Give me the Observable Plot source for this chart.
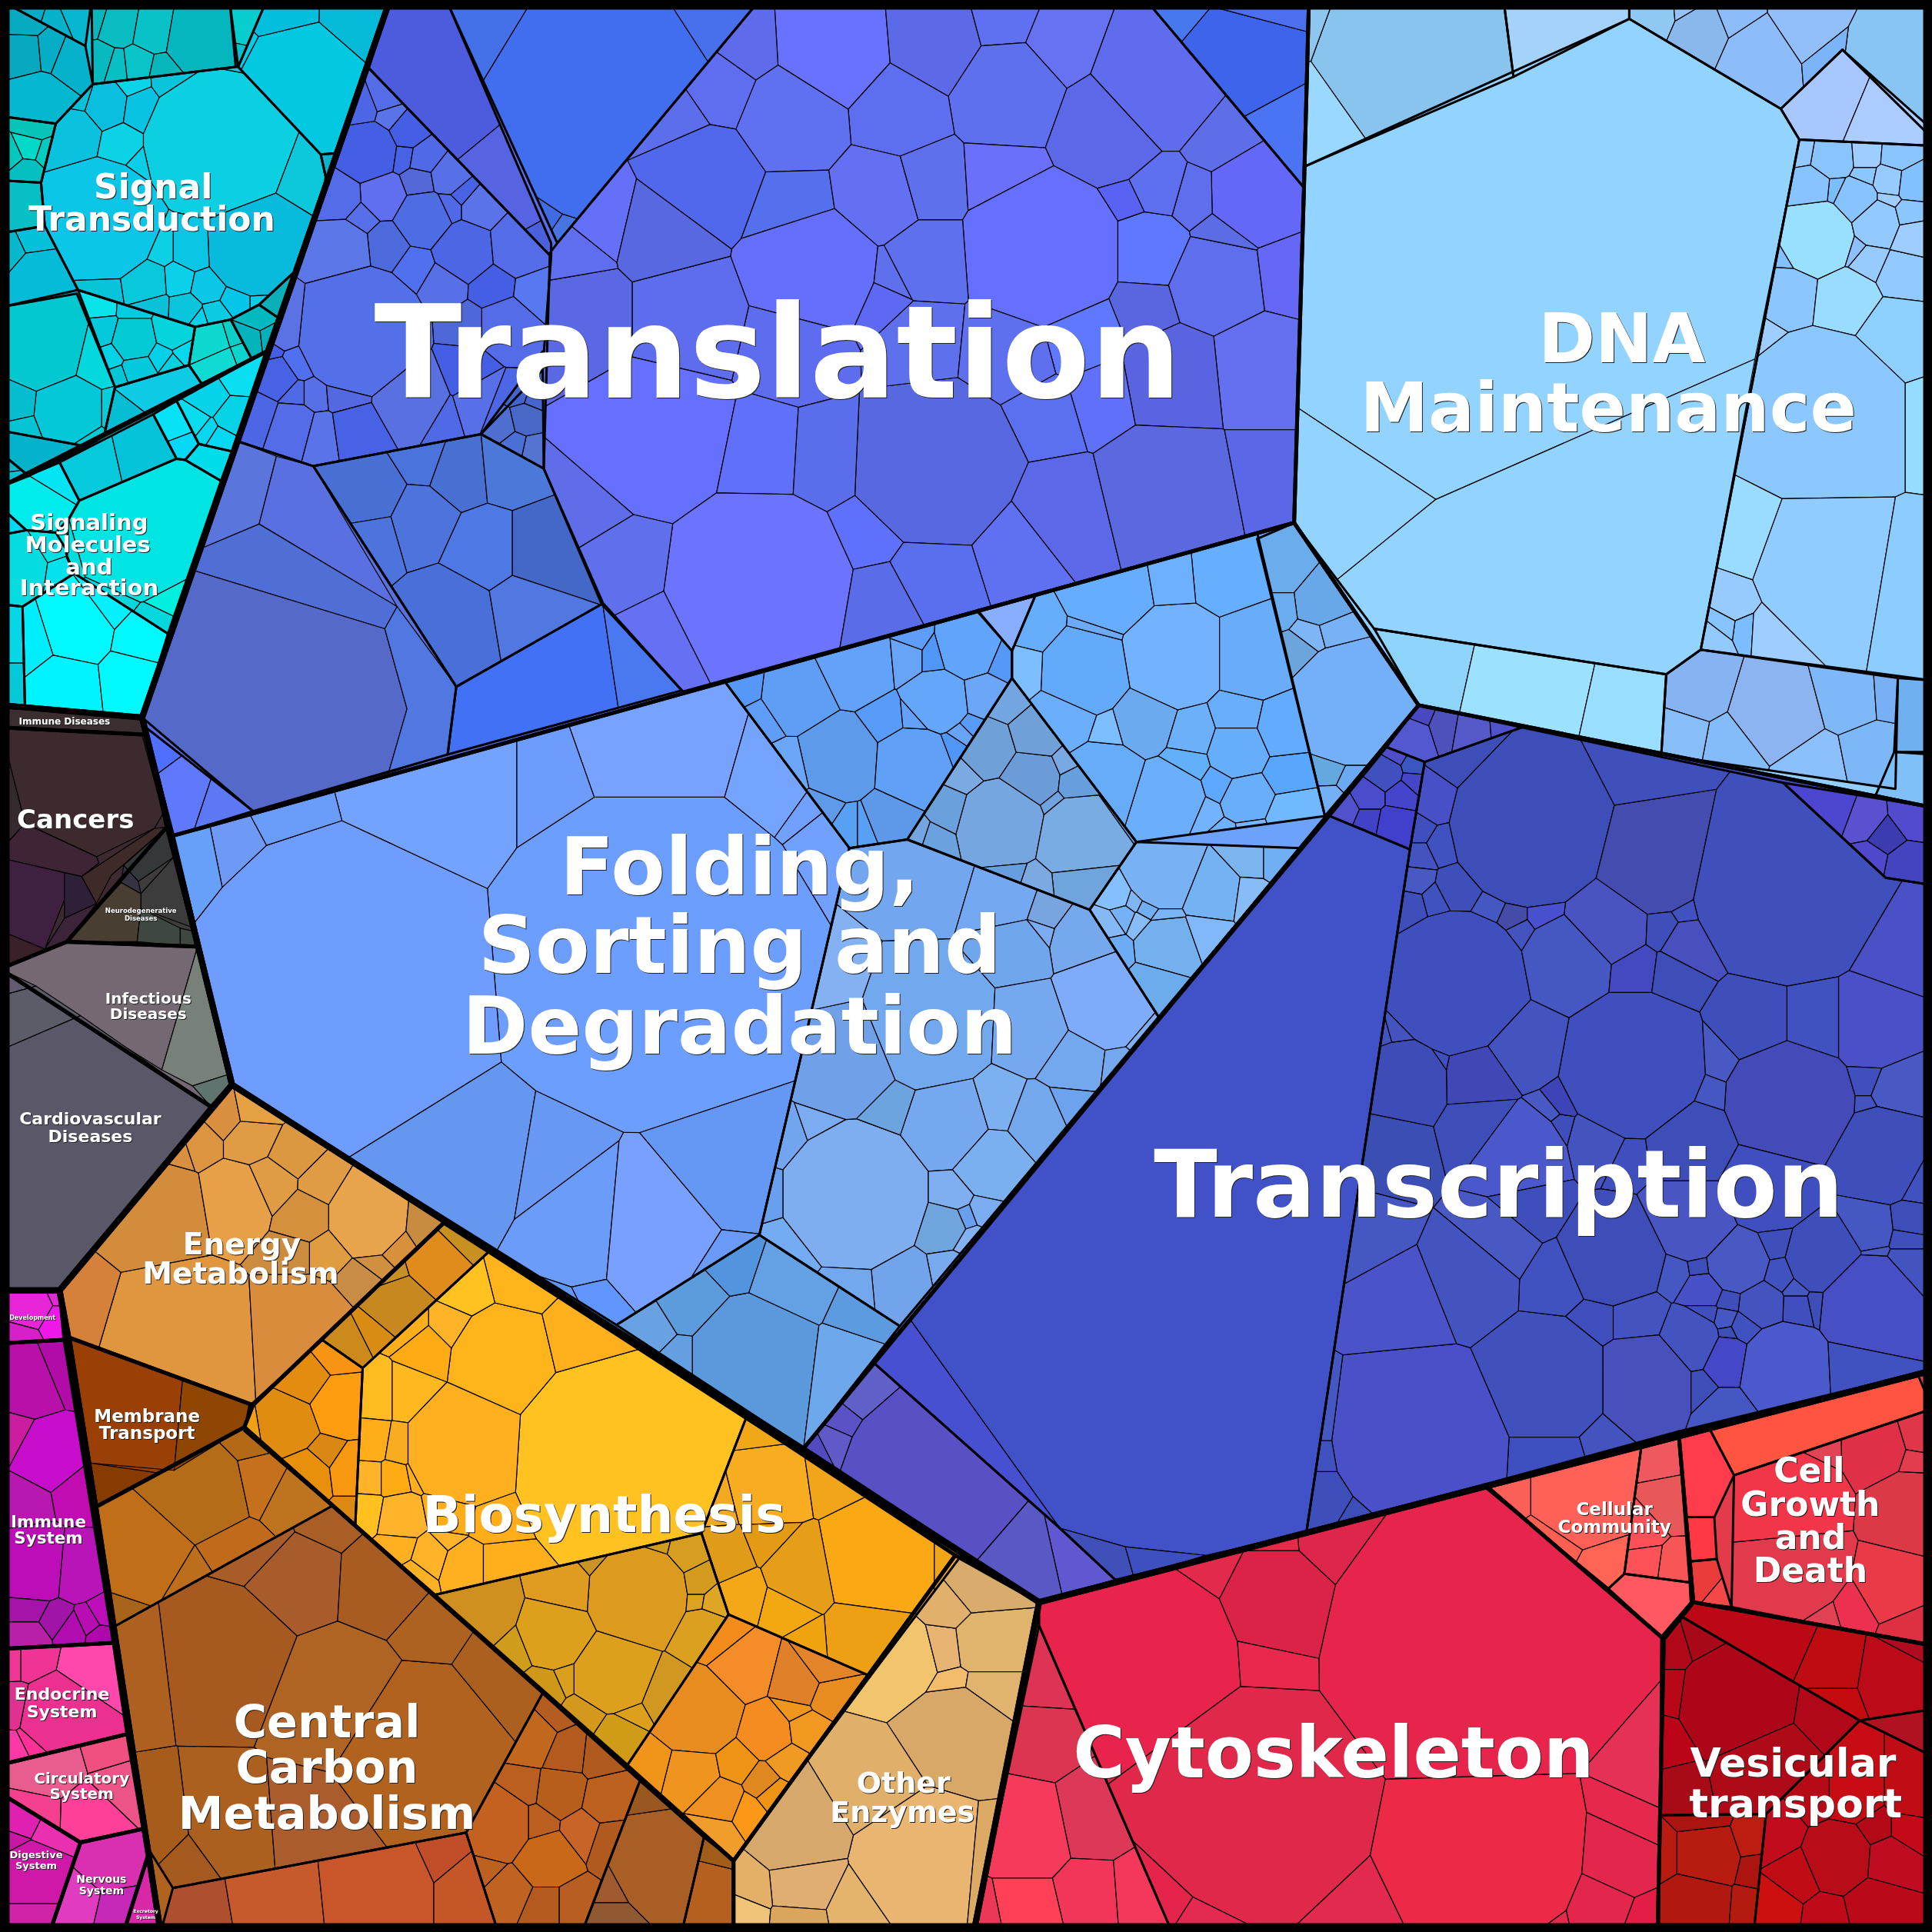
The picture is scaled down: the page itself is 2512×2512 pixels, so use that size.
<!DOCTYPE html>
<html><head><meta charset="utf-8">
<style>html,body{margin:0;padding:0;background:#000}svg{display:block}</style>
<script src="https://cdn.jsdelivr.net/npm/d3@7"></script>
<script src="https://cdn.jsdelivr.net/npm/@observablehq/plot@0.6"></script>
</head><body><div id="chart"></div>
<script>
// top-level supergroups (heaviest outline)
const superRegions = [
[[316,6],[1562,6],[1562,1112],[843,1300],[188,880],[115,582]],
[[6,6],[316,6],[115,582],[6,572]],
[[6,572],[115,582],[188,880],[48,1047],[6,1047]],
[[6,1047],[48,1047],[55,1085],[77,1223],[130,1562],[6,1562]],
[[188,880],[843,1300],[790,1562],[130,1562],[77,1223],[55,1085],[48,1047]],
[[843,1300],[1562,1112],[1562,1562],[790,1562]]
];
// categories: [name, fill, polygon]
const topRegions = [
["Translation","#5A6CE8",[[316,6],[1062,6],[1058,152],[1050,424],[140,678],[115,582]]],
["Folding","#6CA2FA",[[140,678],[1050,424],[1151,572],[652,1175],[188,880]]],
["Transcription","#4350C4",[[1151,572],[1562,655],[1562,1112],[843,1300],[652,1175]]],
["DNA","#90CFFF",[[1062,6],[1562,6],[1562,655],[1151,572],[1050,424],[1058,152]]],
["Signal","#0AC4DA",[[6,6],[316,6],[216,285],[6,395]]],
["Signaling","#00F0F0",[[6,395],[216,285],[115,582],[6,572]]],
["ImmuneDis","#3A2E30",[[6,572],[115,582],[119,596],[6,590]]],
["Cancers","#3C2A30",[[6,590],[119,596],[135,671],[54,764],[6,786]]],
["Neuro","#3E3C3C",[[135,671],[160,768],[54,764]]],
["Infectious","#746872",[[6,786],[54,764],[160,768],[187,880],[171,898]]],
["Cardio","#5A5868",[[6,786],[171,898],[48,1047],[6,1047]]],
["Energy","#E09A44",[[188,880],[362,990],[205,1140],[55,1085],[48,1047]]],
["Membrane","#994006",[[55,1085],[205,1140],[198,1158],[77,1223]]],
["Biosynthesis","#F0A81C",[[362,990],[775,1262],[595,1510],[198,1158],[205,1140]]],
["Central","#B0621F",[[77,1223],[198,1158],[595,1510],[595,1562],[130,1562]]],
["Other","#DDAC68",[[775,1262],[843,1300],[790,1562],[595,1562],[595,1510]]],
["Cytoskeleton","#E4274E",[[843,1300],[1205,1205],[1350,1330],[1345,1562],[790,1562]]],
["Community","#FA5A58",[[1205,1205],[1362,1162],[1374,1300],[1350,1330]]],
["Growth","#E23C4A",[[1362,1162],[1562,1112],[1562,1335],[1374,1300]]],
["Vesicular","#B80C1C",[[1350,1330],[1374,1300],[1562,1335],[1562,1562],[1345,1562]]],
["Development","#E020D8",[[6,1047],[48,1047],[52,1087],[6,1090]]],
["ImmuneSys","#BC0DB8",[[6,1090],[52,1087],[92,1333],[6,1338]]],
["Endocrine","#EC3090",[[6,1338],[92,1333],[103,1407],[6,1432]]],
["Circulatory","#EC5088",[[6,1432],[103,1407],[116,1484],[65,1495],[6,1455]]],
["Digestive","#D018A8",[[6,1455],[65,1495],[40,1562],[6,1562]]],
["Nervous","#D830B0",[[65,1495],[116,1484],[120,1505],[100,1562],[40,1562]]],
["Excretory","#D828A8",[[120,1505],[130,1562],[100,1562]]]
];

// second-level groups: [fill, polygon, cells [x, y, radius, optional fill]]
const signalGroups = [
["#0BC8E0",[[75,68],[191,54],[193,54],[260,125],[264,143],[263,152],[239,220],[210,247],[187,259],[158,265],[63,235],[36,183],[33,148],[45,100]],
 [[177,116,60,"#0CD0E2"],[81,179,48,"#0BC6E6"],[208,198,42,"#08BADC"],[243,141,20,"#0CC8DA"],[159,200,18,"#0AC6E4"],[129,200,10,"#0CD0E4"],[87,85,15,"#0ABEE0"],[107,69,5,"#0CD4E8"],[115,89,14,"#08C4E2"],[145,67,17,"#0AC4DC"],[187,64,8,"#0CCCE0"],[60,108,16,"#0AC2DE"],[100,116,12,"#0CD2E6"],[115,130,4],[65,78,3],[83,233,10,"#08C4D8"],[117,228,15,"#0AC8DC"],[146,226,9],[170,231,13,"#0CC6E8"],[191,241,11,"#05C5E8"],[210,241,6],[123,250,8],[151,251,9],[175,253,7],[160,258,3]]],
["#06B4CC",[[6,6],[74,6],[69,37]],[[21,12,8],[46,20,8],[60,14,8]]],
["#06B0C8",[[6,6],[69,37],[75,68],[45,100],[6,94]],[[19,44,14],[40,42,10],[55,48,11],[29,83,22],[20,19,5]]],
["#08BFC4",[[74,6],[186,6],[191,54],[75,68]],[[76,14,6],[96,20,12],[125,25,14],[160,31,24,"#06B6BE"],[81,50,8],[94,54,6],[112,52,9],[130,56,5]]],
["#08D6D8",[[186,6],[216,6],[193,54]],[[198,21,12],[193,45,4,"#08C0C8"]]],
["#02C6E2",[[216,6],[316,6],[272,124],[260,125],[193,54]],[[245,69,50,"#02C8E2"],[233,19,18,"#04BEDE"],[287,21,22,"#04BAD8"],[205,48,6,"#02CCE6"]]],
["#08B4CC",[[260,125],[272,124],[266,150],[264,143]],[]],
["#0AAFB8",[[239,220],[210,247],[226,258]],[]],
["#04B4BC",[[210,247],[226,258],[216,285],[204,291],[187,259]],[[208,256,9,"#04B8C0"],[200,277,11,"#02B4BC"],[218,275,5,"#06B0B8"]]],
["#0CD6D4",[[158,265],[187,259],[204,291],[164,312],[153,296]],[[168,279,16,"#0CD8D0"],[191,272,5,"#0CD0C8"],[196,287,6,"#0CD4CC"],[175,295,15,"#10DAD4"]]],
["#04CAD8",[[63,235],[158,265],[153,296],[93,314]],[[80,248,8,"#08E4EA"],[82,268,10,"#04C8DC"],[108,250,6,"#04CCE0"],[108,275,16,"#04CAD6"],[141,268,14,"#06D4DC"],[150,285,7,"#04D8EC"],[131,289,6,"#04D0E8"],[89,289,6,"#04D2E6"],[95,306,4],[112,300,10,"#04C8DC"],[139,295,5]]],
["#06C4C4",[[6,94],[45,100],[33,148],[6,146]],[[27,102,10,"#06C4B8"],[23,119,9,"#02D8C8"],[10,125,7,"#04C8BE"],[35,123,5,"#04CCC0"],[21,138,8,"#06BFBF"]]],
["#07BFC5",[[6,146],[33,148],[36,183],[6,189]],[]],
["#05BCD8",[[6,189],[36,183],[63,235],[6,249]],[[27,193,7,"#04C0D8"],[31,222,16,"#05BCD8"],[8,202,5,"#06B8CC"]]],
["#04C8D4",[[6,249],[62,238],[93,314],[84,354],[70,362],[6,349]],[[35,281,35,"#04C8D0"],[77,291,20,"#04D8DC"],[55,331,27,"#04C8D8"],[15,327,13,"#04BED0"],[19,345,7,"#04C4D4"],[71,356,3],[87,331,3]]],
["#0ECADF",[[93,314],[153,296],[164,312],[133,329],[84,354]],[[125,314,18,"#0ECAE4"],[104,341,8,"#06BED4"]]],
["#04B3CB",[[6,349],[70,362],[23,386],[6,367]],[]],
["#04C4D8",[[6,367],[23,386],[6,395]],[[8,375,4],[10,390,4]]]
];
const signalingGroups = [
["#05C6DA",[[48,375],[124,336],[143,372],[64,406]],[[71,372,10,"#06CADC"],[116,362,10,"#04C2D8"]]],
["#0ADCF6",[[124,336],[143,325],[161,360],[150,373],[143,372]],[[141,343,8,"#08E2F6"],[149,364,5,"#08D8F8"]]],
["#08D6EE",[[143,325],[216,285],[188,366],[161,360]],[[158,341,7,"#08DCEE"],[170,322,12,"#06D2EA"],[191,308,7,"#0ADEF2"],[189,337,12,"#06D4E6"],[179,356,6,"#06D8F4"],[168,349,2]]],
["#00DCEA",[[150,373],[161,360],[188,366],[179,390]],[]],
["#00E3E3",[[64,406],[143,372],[150,373],[179,390],[136,514],[60,465],[54,451],[55,422]],[[115,430,55,"#00E4E4"],[140,478,18,"#00F0E0"],[128,503,4,"#04D8DC"],[94,476,12,"#04D8DC"],[62,445,5]]],
["#00F5F5",[[6,395],[48,375],[64,406],[56,420],[45,432],[21,430],[6,411]],[[25,412,16],[44,381,4,"#04E4F4"]]],
["#00D8F8",[[6,411],[21,430],[6,434]],[]],
["#04DEE8",[[6,434],[21,430],[45,432],[53,445],[54,452],[60,465],[18,492],[6,490]],[[21,458,14,"#04DCE0"],[42,445,6,"#04E0E4"],[48,462,4]]],
["#00F6FF",[[18,492],[60,465],[136,514],[115,582],[20,575]],[[62,508,22,"#00F8FF"],[116,518,12,"#00F8FF"],[24,520,7,"#00EEFC"],[52,556,16,"#00F4FF"],[108,550,13,"#00F8FF"],[86,490,3,"#04F0FF"]]],
["#06D0E0",[[6,490],[18,492],[20,575],[6,574]],[[12,515,8,"#06D6E6"],[12,560,6,"#05C9D8"]]]
];
const translationGroups = [
["#5069E6",[[299,55],[447,208],[440,300],[390,352],[254,378],[193,358]],
 [[298,122,23],[311,159,16,"#5F6FF0"],[273,161,17],[340,148,10,"#5468D8"],[326,126,6],[344,129,9],[363,144,12],[328,107,11],[293,90,10],[311,83,4],[315,96,7],[344,178,22,"#4E6CE4"],[313,200,17,"#4D6ADC"],[292,178,10],[337,217,15,"#5070F0"],[376,204,24],[420,200,22],[389,170,13],[374,157,5],[361,170,11],[359,230,17],[399,232,15],[433,236,12,"#5878F2"],[410,262,19],[380,262,10,"#4E68D8"],[275,204,26,"#5C78E8"],[292,268,52,"#5470E8"],[233,262,22,"#5A72E4"],[376,303,15],[407,333,18],[334,320,28,"#5870E0"],[244,292,14,"#5070F0"],[225,305,15],[239,318,7],[256,318,9],[280,316,15,"#5468E0"],[210,335,10],[237,344,15],[260,350,9],[288,346,15],[359,335,9],[389,326,18],[220,282,9]]],
["#4B6CCF",[[440,285],[441,380],[390,352]],[[420,315,8],[427,340,8,"#4868C8"],[405,345,8],[432,365,6],[435,320,6],[418,362,5,"#4A70D8"]]],
["#4A70DC",[[254,378],[390,352],[441,380],[488,490],[370,557]],[[300,400,20,"#4870D4"],[344,372,8,"#4A74DC"],[372,382,16,"#4870D2"],[415,378,18,"#4C78DA"],[340,420,17,"#4C74DC"],[395,445,20,"#4E78E4"],[440,445,24,"#4468C8"],[365,500,26,"#4870D8"],[425,490,12,"#5078E0"],[305,430,4]]],
["#5A70DC",[[193,358],[254,378],[370,557],[363,612],[205,658],[115,582]],[]],
["#5F7BFF",[[118,590],[205,658],[140,678]],[[125,606,4],[150,640,14,"#6078FC"],[180,650,10,"#5C78F4"]]],
["#4F7BF7",[[370,557],[488,490],[553,560],[363,612]],[[440,555,40],[540,540,10,"#4A78F0"]]],
["#6670F4",[[452,197],[616,6],[930,6],[1058,152],[1050,424],[554,561],[489,489],[441,380],[446,205]],
 [[676,43,42,"#6872FF"],[759,36,34,"#5C6AE8"],[815,21,20,"#5F70F2"],[859,39,26,"#6672F2"],[819,75,42,"#5F70EE"],[938,68,50,"#606CEE"],[899,104,42,"#5C68E8"],[728,90,34,"#5E6EF0"],[642,97,42,"#5F70F0"],[588,75,25,"#5F6EF0"],[608,47,15,"#5E6CEC"],[556,97,15,"#5C6EEC"],[576,143,40,"#5268EC"],[644,168,30,"#5470EC"],[712,158,34,"#6470F4"],[751,147,26,"#5E70EC"],[815,143,24,"#6A70FA"],[847,204,62,"#6670FF"],[751,211,28,"#5E70EE"],[660,218,50,"#6470FC"],[724,225,15,"#5E70EC"],[930,204,28,"#5E78FF"],[986,229,34,"#5E6EEC"],[994,190,12,"#5C6CE4"],[1018,158,34,"#6468F8"],[970,159,11,"#5E6EEC"],[938,150,17,"#5E70F0"],[990,111,20,"#5E6EE8"],[915,161,5],[1042,222,13,"#6468F4"],[1022,301,38,"#6470F0"],[954,308,38,"#5A64E0"],[927,247,20,"#5A66E0"],[875,268,30,"#5E78FF"],[895,319,19,"#6070F8"],[847,333,18,"#5A70F0"],[759,376,64,"#5868E0"],[747,276,26,"#5E70EC"],[819,283,34,"#5E70EE"],[716,243,15],[644,279,34,"#5E6CF0"],[552,258,45,"#5E6CEE"],[477,258,42,"#5A68E4"],[469,211,25,"#5E6EEE"],[489,186,22,"#6470F8"],[536,197,34,"#5868E0"],[530,351,60,"#6670FF"],[618,369,30,"#6070F8"],[668,372,26,"#5A6EEC"],[863,422,38,"#5C68E8"],[950,401,55,"#5C68E0"],[1022,387,26,"#5A68E8"],[835,444,32,"#6070F2"],[755,469,26,"#5A6EF0"],[616,473,72,"#6C74FF"],[704,433,15,"#5F70FC"],[716,490,25,"#5A6CE8"],[505,458,26,"#6070EC"],[477,412,18,"#5F6EE8"],[533,515,20,"#6670F4"]]],
["#4D76F0",[[362,6],[616,6],[452,197]],[[490,90,90],[375,20,12,"#4470E8"],[590,25,15,"#4870EC"],[440,165,18,"#3F6CE0"],[462,180,8,"#4674E0"]]],
["#5865E0",[[316,6],[362,6],[447,197],[447,208],[299,55]],[[345,70,50],[415,155,30,"#5664E2"],[437,195,5,"#4A60DC"]]],
["#3F66EE",[[930,6],[1062,6],[1058,152]],[[1000,50,40,"#3F64EC"],[955,12,10,"#4878F0"],[1035,115,25,"#4A74F4"],[1010,12,8]]]
];
const foldingGroups = [
["#6B9CFF",[[140,678],[588,553],[689,688],[616,1002],[500,1075],[188,880]],
 [[530,770,130,"#6C9EFF"],[280,790,120,"#6E9CFF"],[350,640,70,"#74A2FF"],[530,610,55,"#78A2FF"],[445,640,28,"#6E9CFC"],[635,640,25,"#74A4FF"],[642,645,20,"#72A0FF"],[673,684,14,"#72A0FF"],[190,695,14,"#6E9AF6"],[240,668,18,"#6A9CFA"],[165,700,10,"#66A0F8"],[380,950,42,"#6596F0"],[470,1000,42,"#6C9CFA"],[525,1005,45,"#78A0FF"],[440,960,15,"#6898F4"],[590,950,25,"#6498F4"],[580,1040,12,"#6A9AF8"],[450,1060,14,"#5E98EE"],[480,1045,6]]],
["#76A8F0",[[689,688],[736,681],[884,738],[940,825],[730,1076],[616,1002]],
 [[693,970,58,"#7EAEF0"],[753,831,52,"#72A8EE"],[685,859,44,"#70A0E8"],[749,708,30,"#72A6EE"],[817,728,22,"#74A8F2"],[849,739,14,"#78A4E0"],[876,759,20,"#76A8EE"],[896,815,36,"#7EACFA"],[825,767,20,"#70A6EC"],[845,751,8],[837,835,30,"#76A8F0"],[872,859,24,"#74A8EE"],[904,863,10],[924,839,6],[769,911,34,"#76A8F0"],[809,899,20,"#7CB0F0"],[805,943,28,"#7AB0F0"],[841,911,24,"#74A8EC"],[868,899,14],[721,895,18,"#6CA4E0"],[773,970,12],[781,988,8],[767,994,16,"#70A4DC"],[797,982,7],[787,1006,8],[773,1034,14,"#78AAF0"],[733,1042,20,"#72A4EC"],[689,1046,12,"#72A8EE"],[630,970,6],[642,927,10],[665,919,8],[673,803,12],[642,1010,15,"#74ACF4"]]],
["#5E9EF8",[[588,553],[793,496],[821,528],[821,550],[736,681],[689,688]],
 [[681,616,30,"#5E9AEA"],[741,620,30,"#60A0F6"],[646,560,28,"#5E9EF4"],[693,537,30,"#62A2F8"],[761,568,24,"#64A6FA"],[785,525,24,"#60A4FC"],[737,533,12],[757,533,10],[721,586,10],[743,584,10],[797,564,15],[811,536,8],[741,522,8],[689,672,8,"#58A0F4"],[701,672,7,"#58A0F4"],[721,664,16,"#5E98E8"],[665,656,10,"#5E9AE8"],[645,624,10],[612,556,8],[622,576,5],[781,596,5],[773,608,8],[787,590,3]]],
["#8AAEFF",[[794,496],[840,483],[821,528]],[]],
["#68AEFF",[[821,528],[840,483],[1020,432],[1075,662],[922,683],[821,550]],
 [[952,532,40,"#72B2FF"],[880,544,35,"#64AAFA"],[900,477,35,"#66ACFF"],[992,465,22,"#66AEFF"],[948,469,18,"#6CB0FF"],[888,513,15,"#6CAAF8"],[841,509,16,"#66AEFC"],[833,542,13,"#7CBEFF"],[864,580,22,"#6AAEFC"],[928,584,22,"#6CAAF0"],[968,596,15,"#6CB0FA"],[1004,584,15,"#68AEFC"],[1016,532,30,"#68ACFA"],[1004,608,22,"#66AEFC"],[948,648,28,"#6AAEFC"],[896,632,28,"#66ACF8"],[900,592,8,"#7CBEFF"],[964,620,12,"#62B0FA"],[1012,648,18,"#68AEFA"],[1050,664,20,"#70B8FF"],[976,660,8],[1044,628,12],[1040,592,18],[994,680,8],[1016,676,10],[988,636,8]]],
["#6FADF5",[[1020,437],[1050,424],[1151,572],[1075,662]],[[1040,463,15,"#6AACEC"],[1071,489,18,"#68A8E8"],[1040,493,8,"#6AACF0"],[1064,513,8],[1052,529,10,"#6CA4DC"],[1095,572,48,"#74B0FA"],[1079,509,8],[1078,624,10,"#64A8E0"],[1095,632,6],[1079,648,6]]],
["#6FA3E0",[[821,550],[922,683],[884,738],[736,681]],[[813,668,34,"#76A6E0"],[876,680,34,"#78ACE2"],[880,716,25,"#70A4DC"],[841,720,12],[817,712,10],[769,656,12,"#6AA0DC"],[837,632,22,"#6C9CD8"],[801,608,20,"#70A0D8"],[841,596,18,"#70A0D8"],[817,568,10],[781,628,8],[872,636,12],[853,652,8],[864,620,6],[904,660,8],[757,680,4],[745,676,3]]],
["#7AB4F5",[[922,683],[1055,688],[940,825],[884,738]],[[944,708,28,"#78B2F4"],[984,724,22,"#74B2F4"],[1014,696,12,"#7CB4EE"],[1012,728,12],[1032,696,8],[946,767,22,"#74B0EE"],[980,755,12,"#80B8FA"],[936,803,20,"#6CACEC"],[912,743,6],[920,732,4],[924,748,4],[930,737,4],[944,747,5],[900,751,6],[904,771,8],[908,728,6,"#84C0FF"]]],
["#5D9BE0",[[500,1075],[616,1002],[730,1076],[652,1175]],[[610,1105,50,"#5C98DC"],[560,1058,20,"#5C9CDC"],[690,1115,30,"#6EA8EC"],[528,1078,12],[640,1040,22,"#64A0E4"],[705,1070,10],[555,1105,14],[595,1025,8]]]
];
const transcriptionGroups = [
["#4152C8",[[1079,662],[1144,689],[1060,1243],[905,1282],[860,1240],[708,1105],[738,1070]],[]],
["#5850C4",[[652,1175],[708,1105],[860,1240],[905,1282],[843,1300]],[[752,1195,65,"#5850C4"],[696,1131,10,"#6060C8"],[680,1151,6],[673,1167,5],[661,1173,4],[870,1268,12,"#6058D0"],[843,1274,12,"#5A58C4"]]],
["#4848C8",[[1079,662],[1125,606],[1156,618],[1144,689]],[[1123,628,12,"#4050BE"],[1111,645,10,"#4A4CCC"],[1136,645,9,"#4444CC"],[1092,656,5],[1111,664,5],[1132,668,12,"#4040CC"],[1132,612,3],[1147,621,4,"#3A56C0"],[1146,634,4]]],
["#5558CC",[[1151,572],[1235,590],[1156,618],[1125,606]],[[1152,581,6,"#4A48C0"],[1171,589,8,"#4E50BC"],[1194,593,11,"#5458C8"],[1146,597,13,"#5458D0"],[1221,591,4]]],
["#5048CC",[[1447,635],[1562,655],[1562,718],[1530,712]],[[1480,655,16,"#4C46D0"],[1530,680,8,"#3C3CB0"],[1550,665,6],[1515,668,5],[1545,700,10,"#4444C0"],[1520,695,5]]],
["#4052C0",[[1156,618],[1235,590],[1447,635],[1530,712],[1562,718],[1562,1112],[1060,1243],[1144,689]],
 [[1242,670,65],[1182,797,57],[1342,695,46,"#444CB0"],[1331,624,25,"#3F50BC"],[1452,718,78,"#3F50BC"],[1540,770,28,"#4A50C6"],[1271,780,35],[1304,749,32,"#4A54C0"],[1325,865,58],[1238,849,30],[1202,874,25,"#4048B8"],[1184,720,16],[1173,685,12],[1165,651,14,"#4850C8"],[1188,618,15],[1152,672,8],[1152,695,7],[1150,714,8],[1146,735,8],[1165,730,8],[1209,735,8],[1227,743,6,"#454CA8"],[1252,743,7,"#4850D0"],[1234,757,5],[1325,785,14,"#4349BE"],[1348,751,11],[1366,739,5],[1369,764,15,"#4850C0"],[1356,789,8],[1155,864,12],[1128,845,8],[1396,861,11],[1427,832,30],[1473,832,30],[1518,832,35,"#4A50C6"],[1452,894,52,"#444BB8"],[1516,875,12],[1516,897,4],[1539,884,20],[1527,936,38],[1556,952,20],[1385,890,14],[1373,927,35],[1323,934,5],[1296,921,20],[1258,903,4],[1266,913,6],[1269,894,8,"#3C44B8"],[1232,935,36,"#4A58CC"],[1310,1019,40,"#3E4DB8"],[1373,988,34,"#4A55C4"],[1435,961,38,"#3F4FC0"],[1410,1023,25],[1479,1019,30],[1518,1058,40,"#4650C4"],[1516,996,18],[1550,992,12],[1548,1004,10],[1548,1031,18],[1520,1019,6],[1441,1009,12],[1445,1033,12],[1458,1044,8],[1477,1054,7],[1458,1058,7],[1429,1057,16],[1383,1046,12,"#4850C8"],[1403,1054,4],[1414,1077,7],[1400,1071,4],[1402,1083,4],[1383,1067,5],[1371,1088,23],[1400,1102,17,"#4448C8"],[1448,1110,34,"#4A5ACC"],[1508,1107,20],[1358,1031,8],[1381,1027,6],[1298,1071,14],[1327,1071,20],[1332,1122,40,"#4850BC"],[1257,1122,50,"#4050BC"],[1267,1038,18],[1400,1146,12],[1377,1122,4],[1257,1174,25,"#3E50C0"],[1297,1162,15],[1151,1168,70,"#4A50C8"],[1081,1213,15],[1081,1180,8],[1081,1159,6],[1101,1225,8],[1140,1055,30,"#4A54C8"],[1190,1035,32],[1215,1005,24],[1240,975,22],[1127,934,25,"#3A4EB4"],[1110,1000,20],[1205,915,26],[1139,875,32,"#3E4CB8"],[1135,843,10]]]
];
const dnaGroups = [
["#88C4EE",[[1062,6],[1220,6],[1228,62],[1058,135]],[[1130,45,55,"#88C4EE"],[1045,105,45,"#9AD8FF"],[1048,15,5]]],
["#A5D2F8",[[1220,6],[1322,6],[1322,15],[1228,62]],[]],
["#8CBDFA",[[1322,6],[1562,6],[1562,112],[1495,40],[1445,88],[1322,15]],[[1345,10,8,"#90C8F4"],[1380,25,18,"#88B8EC"],[1425,45,22,"#8CBDFA"],[1470,15,22,"#92BEFA"],[1530,45,32,"#88C4F4"],[1405,15,6],[1370,8,4],[1490,40,2]]],
["#A9C8FF",[[1495,40],[1562,105],[1562,118],[1460,113],[1445,88]],[[1475,82,18,"#A8C6FF"],[1530,105,12,"#ACCCFF"]]],
["#93D3FF",[[1058,135],[1322,15],[1445,88],[1460,113],[1380,527],[1352,547],[1115,510],[1050,424]],[]],
["#8CC6FF",[[1460,113],[1562,118],[1562,552],[1380,527]],
 [[1474,192,29,"#99E0FF"],[1487,127,16,"#8AC4FC"],[1464,123,5],[1514,125,10],[1539,127,10,"#8AC4FC"],[1514,142,5],[1533,146,11],[1489,154,6],[1506,162,16],[1523,181,18],[1531,162,4],[1550,148,10],[1547,175,8],[1518,212,11],[1506,202,3,"#8CC0FF"],[1469,152,15],[1543,223,17],[1550,192,12],[1454,204,5],[1452,241,20],[1499,246,25,"#99DCFF"],[1537,273,30,"#8ED0FF"],[1478,335,68,"#8BC8FF"],[1558,335,12,"#96DCFF"],[1431,275,5],[1480,460,55,"#90CCFF"],[1425,440,22,"#9ADCFF"],[1408,490,12],[1415,507,5],[1400,505,5],[1390,518,5],[1432,508,8],[1540,470,30,"#8CCCFF"]]],
["#9AE0FF",[[1115,510],[1352,547],[1348,612],[1151,572]],[[1150,540,25,"#8ED4FA"],[1240,560,38,"#9CE2FF"],[1322,578,20,"#9ADEFF"]]],
["#88B8F5",[[1352,547],[1380,527],[1540,550],[1538,640],[1348,612]],[[1440,578,32,"#8CB4F0"],[1380,560,18,"#86B4F2"],[1500,562,20,"#7EB8F8"],[1405,605,18,"#84BCFA"],[1470,622,16,"#8CC0FC"],[1368,598,12,"#88BEF8"],[1520,612,14,"#7CB8F8"],[1530,560,5]]],
["#6FB0F0",[[1540,550],[1562,552],[1562,610],[1537,610]],[]],
["#7FC0F8",[[1537,610],[1562,612],[1562,655],[1522,645]],[]]
];
const cellularGroups = [
["#E4274E",[[843,1300],[1205,1205],[1350,1330],[1345,1562],[951,1560],[843,1319]],[[1197,1334,120,"#E6244C"],[931,1343,70,"#E8244C"],[1036,1298,40,"#DB2348"],[1021,1465,90,"#DF284A"],[1202,1501,80,"#EC2A48"],[1081,1250,22,"#DE264C"],[981,1270,15,"#E42A4C"],[1036,1254,5,"#E82A4A"],[1028,1336,6,"#E8284C"],[1317,1510,25,"#E2264C"],[1332,1477,15,"#E6284C"],[1101,1550,18,"#E32A4E"],[1302,1543,16,"#E2264C"],[1242,1556,10,"#E42A4C"],[1337,1556,6],[951,1540,6],[976,1556,10],[1340,1459,4]]],
["#DE3858",[[843,1319],[951,1560],[790,1562]],[[848,1362,16,"#DD3355"],[845,1410,18,"#DB3552"],[888,1474,25,"#DE3858"],[830,1486,33,"#F53A5C"],[885,1537,15,"#F2365A"],[925,1534,14,"#F4385C"],[830,1550,18,"#FF4056"],[800,1556,8,"#EC3858"]]],
["#FF6058",[[1204,1206],[1332,1172],[1318,1277],[1305,1289]],[[1282,1213,40,"#FF6058"],[1257,1250,20,"#FD6050"],[1232,1213,10,"#FA6058"],[1302,1274,14,"#FF6454"]]],
["#F05860",[[1332,1172],[1362,1165],[1371,1284],[1318,1277]],[[1347,1180,10,"#F05860"],[1355,1222,16,"#E85858"],[1332,1243,15,"#FF5058"],[1357,1268,10,"#F85555"],[1335,1265,12,"#FC5258"]]],
["#FE5860",[[1318,1277],[1371,1284],[1372,1300],[1348,1328],[1305,1289]],[]],
["#FF5540",[[1387,1159],[1556,1115],[1562,1143],[1407,1197]],[]],
["#FF3C4C",[[1362,1165],[1387,1159],[1407,1197],[1391,1231],[1368,1231]],[]],
["#FF3844",[[1368,1231],[1391,1231],[1393,1265],[1371,1267]],[]],
["#EC4848",[[1371,1267],[1393,1265],[1405,1304],[1372,1300]],[[1380,1280,10],[1398,1295,4,"#F44848"]]],
["#E03A4C",[[1407,1197],[1562,1143],[1562,1336],[1405,1304]],[[1458,1271,40,"#E03A4C"],[1523,1177,22,"#E03048"],[1548,1225,30,"#DB3848"],[1533,1286,25,"#EA3A48"],[1453,1219,42,"#F03648"],[1503,1304,14,"#EE3050"],[1483,1310,8],[1548,1322,10],[1553,1168,6],[1550,1186,6],[1473,1178,10]]],
["#BC0814",[[1372,1300],[1562,1335],[1562,1387],[1509,1396],[1365,1312]],[[1433,1328,35,"#BC0814"],[1483,1350,20,"#BE0C10"],[1538,1359,22,"#BC0A18"],[1548,1340,10,"#B00C20"],[1483,1380,10,"#C40C10"]]],
["#B01222",[[1509,1396],[1562,1387],[1562,1425]],[]],
["#AC0618",[[1348,1328],[1365,1312],[1509,1396],[1433,1472],[1347,1473]],[[1407,1380,45,"#AC0618"],[1433,1440,40,"#AE0A18"],[1483,1392,12,"#B00818"],[1362,1340,8,"#B00818"],[1382,1334,12,"#A80818"],[1362,1374,15,"#B80818"],[1352,1413,15,"#BC0418"],[1362,1455,16,"#A80A18"]]],
["#B81C10",[[1347,1473],[1433,1472],[1423,1560],[1346,1560]],[[1385,1507,25,"#B81C10"],[1377,1543,25,"#B01810"],[1423,1516,8,"#AC1410"],[1382,1480,10,"#AC1410"],[1417,1546,6],[1355,1507,8],[1420,1495,8]]],
["#BC0A18",[[1433,1472],[1509,1396],[1562,1425],[1562,1560],[1423,1560]],[[1493,1507,25,"#B80C18"],[1438,1486,15,"#C00C1C"],[1438,1549,14,"#CC1010"],[1523,1546,20,"#BA0A1A"],[1533,1510,18,"#C00C20"],[1458,1522,10,"#C00C14"],[1483,1555,6],[1523,1486,8],[1503,1456,18,"#C80C14"],[1553,1456,15,"#C00C14"],[1548,1486,10],[1473,1456,10]]]
];
const metabolismGroups = [
["#DDAC68",[[775,1262],[843,1300],[790,1562],[595,1562],[595,1510]],[[732,1346,28,"#F2C46E"],[776,1402,34,"#D8A868"],[744,1509,46,"#EAB570"],[645,1485,36,"#D6A86C"],[704,1449,28,"#E0B06A"],[651,1525,24,"#E0AE70"],[609,1529,12,"#E4B068"],[796,1334,20,"#E0B46C"],[764,1338,15,"#E8B474"],[768,1306,10,"#E0B06C"],[792,1286,15,"#D8AC6C"],[772,1370,12,"#F2BC6C"],[601,1549,8,"#F0C478"],[692,1545,10,"#E4B46C"],[649,1553,8],[788,1513,8],[796,1374,14,"#E0B46E"]]],
["#BC6E18",[[77,1223],[198,1158],[269,1222],[92,1320]],[[115,1265,32,"#C06E18"],[165,1210,32,"#B46C18"],[212,1200,16,"#C4701C"],[100,1310,8,"#A8641A"],[148,1285,12,"#BC6E1C"],[235,1212,14,"#BE741E"],[190,1258,10,"#C06A1C"],[205,1170,6]]],
["#A95D20",[[92,1320],[269,1222],[440,1374],[378,1487],[140,1532],[120,1500]],[[187,1340,45,"#A65A20"],[275,1374,48,"#B06424"],[338,1414,60,"#B0621E"],[241,1282,32,"#A85C2C"],[310,1286,32,"#A85C22"],[346,1318,15,"#AE6220"],[211,1254,20,"#A85C28"],[263,1234,12,"#A85E24"],[406,1358,20,"#AC6020"],[185,1485,24,"#AC6020"],[128,1492,12,"#A85C1C"],[148,1512,10],[250,1480,14,"#AB5C2C"],[105,1350,4]]],
["#C5562A",[[140,1532],[378,1487],[404,1560],[130,1562]],[[150,1550,10,"#AE5030"],[227,1537,24,"#C65A2C"],[306,1529,40,"#C8562A"],[378,1529,14,"#C45628"],[358,1505,8,"#C04E28"]]],
["#B85E20",[[440,1374],[519,1445],[472,1560],[404,1560],[378,1487]],[[430,1410,20,"#C2681E"],[402,1481,28,"#C46020"],[434,1481,10],[454,1453,16,"#B85E1C"],[458,1422,14],[473,1485,8,"#C86428"],[493,1461,15],[485,1425,8],[442,1509,20,"#C86818"],[424,1449,10],[414,1533,12],[442,1545,10],[462,1545,6],[394,1513,5],[497,1493,12],[446,1394,8]]],
["#A85E24",[[519,1445],[571,1491],[553,1560],[472,1560]],[[533,1509,36,"#A85E24"],[489,1533,10,"#A05A30"],[525,1453,8,"#985820"],[489,1553,8,"#905830"]]],
["#B5601E",[[571,1491],[595,1509],[595,1562],[553,1560]],[[577,1533,15,"#B5601E"],[585,1500,5,"#A05C18"]]],
["#FFB020",[[396,1016],[605,1151],[569,1244],[353,1294],[288,1238],[294,1110]],[[505,1183,88,"#FFC220"],[378,1175,48,"#FFB020"],[410,1103,42,"#FFB41C"],[478,1087,38,"#FFB01C"],[426,1035,26,"#FFB41C"],[378,1047,15,"#FFC220"],[366,1075,10],[346,1095,12],[330,1075,8],[306,1131,12,"#FFBC20"],[332,1131,14,"#FFB820"],[302,1171,10],[326,1175,10,"#F8AC20"],[300,1199,8],[320,1199,10],[340,1195,8],[298,1226,8,"#FFC020"],[326,1231,16],[366,1223,20],[324,1254,8],[350,1262,12],[376,1270,16,"#FFB020"],[402,1270,10],[338,1278,5],[362,1250,5],[398,1231,15]]],
["#C89420",[[360,993],[396,1016],[294,1110],[261,1087]],[[322,1059,20,"#C88820"],[354,1024,18,"#E08C1C"],[374,1004,6,"#C89020"],[302,1083,8,"#D88C14"],[286,1091,10,"#CC8A1C"],[314,1036,6,"#C89020"]]],
["#E08C14",[[202,1141],[261,1087],[294,1110],[288,1238],[198,1161]],[[231,1155,22,"#E08C10"],[275,1139,20,"#FF9C10"],[247,1119,16,"#E48C10"],[271,1099,10,"#F89414"],[263,1183,4],[249,1199,18,"#E8900C"],[281,1195,12,"#F89810"],[207,1159,5,"#F0A010"],[281,1229,3]]],
["#F0A616",[[605,1151],[780,1262],[706,1360],[591,1310],[569,1244]],[[712,1266,44,"#FAA814"],[649,1278,28,"#E69E18"],[621,1203,30,"#F8AC20"],[677,1195,14,"#F0A618"],[704,1326,30,"#EEA014"],[623,1254,10,"#E49A14"],[637,1302,20,"#F2A810"],[605,1294,18,"#F4A818"],[593,1266,14,"#E09C18"],[617,1171,8,"#F0A818"],[589,1211,8],[653,1330,5],[772,1266,4]]],
["#D9A020",[[353,1294],[569,1244],[591,1310],[509,1432]],[[517,1294,40,"#DC9A1E"],[497,1358,32,"#DCA01C"],[458,1290,20,"#E09C20"],[450,1326,28,"#DCA01C"],[390,1306,26,"#D09020"],[537,1374,15,"#D09820"],[569,1322,15,"#DCA020"],[501,1406,15,"#D09C18"],[509,1390,10,"#DCA01C"],[477,1390,12,"#D4981C"],[442,1366,10,"#D09818"],[420,1338,10,"#D09C1C"],[460,1358,8],[485,1266,8,"#C89424"],[529,1256,10,"#D09C20"],[553,1262,8],[565,1298,5],[577,1300,6],[565,1286,8]]],
["#F09820",[[591,1310],[706,1360],[595,1509],[509,1432]],[[565,1390,34,"#E88C20"],[601,1354,20,"#F48C28"],[621,1406,18,"#F48C20"],[561,1437,20,"#F09420"],[585,1461,15,"#F09020"],[649,1366,16,"#E08028"],[669,1374,10,"#E88C20"],[597,1430,12],[619,1446,10,"#E08820"],[605,1469,8,"#FC9818"],[581,1485,8],[533,1430,10],[653,1402,8],[585,1334,8,"#F48C1C"],[625,1453,8],[645,1386,4],[637,1430,8],[665,1354,12,"#E48428"]]],
["#E09A44",[[188,880],[362,990],[205,1140],[55,1085],[48,1047]],[[150,1090,65,"#E0963F"],[240,1085,50,"#D98C3C"],[65,1065,18,"#D5813A"],[130,985,38,"#D28C3C"],[190,975,28,"#E8A048"],[298,988,32,"#E8A44C"],[247,988,20,"#D4903C"],[219,962,18,"#E09C44"],[259,964,12,"#E09C44"],[235,940,10,"#DC9840"],[203,925,12,"#E09C44"],[160,925,10,"#DC9440"],[180,905,9,"#D89040"],[145,930,6,"#D89040"],[205,900,6,"#E6A044"],[265,1016,16,"#E09C40"],[239,1016,14,"#CC8C40"],[290,1040,14,"#C88C44"],[318,1008,12,"#D8903C"],[342,992,12,"#C88C40"],[302,1024,8,"#D09040"]]],
["#994006",[[55,1085],[205,1140],[198,1158],[77,1223]],[]]
];
const organismalGroups = [
["#E020D8",[[6,1047],[48,1047],[52,1087],[6,1090]],[[25,1060,15,"#E624D8"],[45,1072,9,"#F018E8"],[18,1086,7,"#D520C8"],[46,1050,3]]],
["#BC0DB8",[[6,1090],[52,1087],[92,1333],[6,1338]],[[23,1124,20,"#B810A8"],[52,1112,12,"#B20CA8"],[12,1165,7,"#CC1CA0"],[40,1180,24,"#C80CCC"],[64,1210,12,"#C00CB0"],[20,1218,10,"#B818B0"],[28,1270,28,"#BC0DB8"],[62,1273,22,"#B814B8"],[25,1304,7,"#A414A8"],[44,1314,6,"#A014A8"],[58,1324,7,"#B00CB0"],[73,1317,5],[83,1311,5],[25,1328,7,"#B820A8"],[81,1327,6,"#B006AC"]]],
["#EC3090",[[6,1338],[92,1333],[103,1407],[6,1432]],[[73,1355,17,"#FF48AC"],[48,1392,30,"#EC3090"],[12,1385,8,"#E03090"],[25,1345,6,"#F03496"],[30,1412,8,"#FF3098"],[10,1422,6,"#FF38A8"],[10,1345,3]]],
["#EC5088",[[6,1432],[103,1407],[116,1484],[65,1495],[6,1455]],[[40,1433,22,"#E85C90"],[72,1473,20,"#FF4098"],[32,1472,12,"#F54090"],[94,1450,12,"#EC5488"],[85,1420,7,"#F05080"]]],
["#D018A8",[[6,1455],[65,1495],[40,1562],[6,1562]],[[25,1520,24,"#D018A8"],[25,1555,8,"#D024A8"],[18,1478,9,"#E020B0"],[38,1488,5,"#E830B0"],[12,1495,3]]],
["#D830B0",[[65,1495],[116,1484],[120,1505],[100,1562],[40,1562]],[[88,1510,18,"#D830B0"],[60,1542,13,"#E03CC0"],[95,1550,7,"#C828B8"]]],
["#D828A8",[[120,1505],[130,1562],[100,1562]],[]]
];
// explicit cells for the few regions drawn with long straight edges: [fill, polygon]
const explicitCells = [
["#93D3FF",[[1058,135],[1322,15],[1445,88],[1460,113],[1424,291],[1165,405],[1052,330]]],
["#93D3FF",[[1052,330],[1165,405],[1085,470],[1050,424]]],
["#93D3FF",[[1085,470],[1165,405],[1424,291],[1380,527],[1352,547],[1115,510]]],
["#5A76DC",[[193,358],[224,370],[210,425],[165,444]]],
["#5A70E0",[[224,370],[254,378],[322,492],[210,425]]],
["#4F6FD6",[[165,444],[210,425],[322,492],[312,510],[158,463]]],
["#5569C9",[[158,463],[312,510],[330,575],[315,627],[205,658],[115,582]]],
["#5078E0",[[312,510],[322,492],[370,557],[363,612],[315,627],[330,575]]],
["#4650D0",[[708,1105],[738,1070],[860,1240]]],
["#4152C8",[[1079,662],[1144,689],[1060,1243],[978,1262],[913,1255],[860,1240],[738,1070]]],
["#4050B8",[[860,1240],[913,1255],[920,1280],[905,1282]]],
["#3E50C0",[[913,1255],[978,1262],[920,1280]]],
["#9A4006",[[55,1085],[148,1118],[141,1193],[72,1187]]],
["#8F4603",[[148,1118],[205,1140],[198,1158],[141,1193]]],
["#873B03",[[72,1187],[127,1195],[77,1223]]],
["#746872",[[6,786],[54,764],[160,768],[131,868]]],
["#78807A",[[160,768],[184,872],[156,881],[131,868]]],
["#5F746E",[[156,881],[184,872],[187,880],[171,898]]],
["#645A70",[[6,786],[29,800],[6,808]]],
["#5C5C68",[[6,808],[29,800],[65,824],[6,852]]],
["#5A5868",[[6,852],[65,824],[171,898],[48,1047],[6,1047]]],
["#3C2A2E",[[6,590],[115,596],[132,660],[125,672],[78,695],[20,668]]],
["#332A2E",[[6,590],[20,668],[6,690]]],
["#3E2434",[[6,690],[20,668],[78,695],[80,700],[66,711],[6,696]]],
["#3F2040",[[6,696],[52,708],[52,730],[36,770],[6,755]]],
["#2E2036",[[52,708],[66,711],[78,733],[52,745],[52,730]]],
["#3F2A2A",[[66,711],[125,672],[135,671],[90,710],[78,733]]],
["#3C2438",[[52,745],[78,733],[54,764],[36,770]]],
["#3A2028",[[6,755],[36,770],[6,786]]],
["#343838",[[135,671],[141,695],[112,715],[100,702]]],
["#353340",[[100,702],[112,715],[114,725],[98,716]]],
["#3C3C3C",[[141,695],[155,752],[114,737],[114,725]]],
["#483E32",[[98,716],[114,725],[114,737],[111,764],[54,764]]],
["#3E4840",[[114,737],[146,753],[146,767],[111,764]]],
["#3E4840",[[146,753],[155,755],[160,768],[146,767]]]
];

// labels: one row per line of text
const labelText = ["Translation","Transcription","Folding,","Sorting and","Degradation","DNA","Maintenance","Cytoskeleton","Signal","Transduction","Central","Carbon","Metabolism","Biosynthesis","Vesicular","transport","Cell","Growth","and","Death","Energy","Metabolism","Other","Enzymes","Signaling","Molecules","and","Interaction","Cancers","Cardiovascular","Diseases","Infectious","Diseases","Membrane","Transport","Immune","System","Endocrine","System","Circulatory","System","Digestive","System","Nervous","System","Excretory","System","Immune Diseases","Neurodegenerative","Diseases","Development","Cellular","Community"];
const labelX = [631,1216,600,600,600,1316,1305,1082,124,123,265,265,265,490,1455,1457,1468,1469,1469,1469,196,195,733,732,72,71,72,72,61,73,73,120,120,119,119,39,39,50,50,66,66,29,29,82,82,118,118,52,114,114,26,1310,1310];
const labelY = [289,963,705,769,834,276,332,1424,152,178,1398,1435,1472,1230,1431,1464,1194,1221,1248,1275,1010,1034,1447,1471,424,442,460,477,665,908,922,810,823,1149,1163,1235,1248,1375,1389,1443,1456,1505,1514,1525,1534,1551,1556,585,739,745,1069,1225,1239];
const labelSize = [167,121,103,103,103,89,89,92,44,44,59,59,59,66,52,52,44,44,44,44,39,39,38,38,29,29,29,29,34,22,22,20,20,23,23,21.5,21.5,22,22,20,20,13,13,14,14,6,6,12,8.5,8.5,8,23,23];

// --- geometry helpers: each cell is the part of its group polygon nearest to its seed (power distance)
const snap = v => v <= 9 ? 0 : v >= 1559 ? 1568 : v;
const snapPoly = p => p.map(([x,y]) => [snap(x), snap(y)]);
function clipHalf(poly, a, b, c) { // keep a*x+b*y<=c
  const out = [];
  for (let i = 0; i < poly.length; i++) {
    const p = poly[i], q = poly[(i+1) % poly.length];
    const dp = a*p[0]+b*p[1]-c, dq = a*q[0]+b*q[1]-c;
    if (dp <= 0) out.push(p);
    if ((dp < 0 && dq > 0) || (dp > 0 && dq < 0)) {
      const t = dp/(dp-dq);
      out.push([p[0]+t*(q[0]-p[0]), p[1]+t*(q[1]-p[1])]);
    }
  }
  return out;
}
function shade(hex, i) {
  const c = d3.hsl(hex);
  c.l *= 1 + (((i*37) % 7) - 3) * 0.014;
  return c.formatHex();
}
function cellsOf(group) {
  const [fill, poly0, seeds] = group;
  const poly = snapPoly(poly0);
  if (!seeds.length) return [{fill, poly}];
  return seeds.map((s, i) => {
    let p = poly;
    for (let j = 0; j < seeds.length && p.length; j++) {
      if (j === i) continue;
      const t = seeds[j];
      const a = 2*(t[0]-s[0]), b = 2*(t[1]-s[1]);
      const c = t[0]*t[0]+t[1]*t[1]-t[2]*t[2] - (s[0]*s[0]+s[1]*s[1]-s[2]*s[2]);
      p = clipHalf(p, a, b, c);
    }
    return {fill: s[3] || shade(fill, i), poly: p};
  }).filter(c => c.poly.length > 2);
}
const allGroups = [...signalGroups, ...signalingGroups, ...translationGroups, ...foldingGroups, ...transcriptionGroups, ...dnaGroups, ...cellularGroups, ...metabolismGroups, ...organismalGroups];
let uid = 0;
const rows = (poly, fill) => { const id = uid++; return [...poly, poly[0]].map(([x,y]) => ({id, x, y, fill})); };
const topRows = topRegions.flatMap(([n,f,p]) => rows(snapPoly(p), f));
const cellRows = [
  ...allGroups.flatMap(g => cellsOf(g).flatMap(c => rows(c.poly, c.fill))),
  ...explicitCells.flatMap(([f,p]) => rows(snapPoly(p), f))
];
const groupRows = allGroups.flatMap(g => rows(snapPoly(g[1]), "none"));
const topLineRows = topRegions.flatMap(([n,f,p]) => rows(snapPoly(p), "none"));
const superRows = superRegions.flatMap(p => rows(snapPoly(p), "none"));
const labels = labelText.map((text,i) => ({text, x:labelX[i], y:labelY[i], size:labelSize[i]}));

const chart = Plot.plot({
  width: 2512, height: 2512, margin: 0, style:{background:"#000"},
  x:{domain:[0,1568], axis:null}, y:{domain:[1568,0], axis:null},
  color:{type:"identity"},
  marks:[
    Plot.line(topRows, {x:"x", y:"y", z:"id", fill:"fill", stroke:"none"}),
    Plot.line(cellRows, {x:"x", y:"y", z:"id", fill:"fill", stroke:"#000", strokeWidth:1.2, strokeLinejoin:"round"}),
    Plot.line(groupRows, {x:"x", y:"y", z:"id", stroke:"#000", strokeWidth:3, strokeLinejoin:"round"}),
    Plot.line(topLineRows, {x:"x", y:"y", z:"id", stroke:"#000", strokeWidth:5, strokeLinejoin:"round"}),
    Plot.line(superRows, {x:"x", y:"y", z:"id", stroke:"#000", strokeWidth:8, strokeLinejoin:"round"}),
    Plot.frame({stroke:"#000", strokeWidth:24}),
    Plot.text(labels, {x:"x", y:"y", text:"text", fontSize:d=>d.size, fontWeight:"bold", fontFamily:"DejaVu Sans", textAnchor:"middle", lineAnchor:"middle", fill:"#fff", imageFilter:"drop-shadow(1.5px 1.5px 0 #222)"})
  ]
});
document.getElementById("chart").append(chart);
</script></body></html>
